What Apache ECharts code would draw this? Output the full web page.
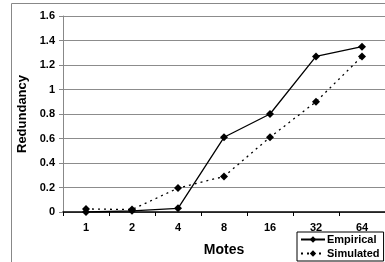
<!DOCTYPE html>
<html>
<head>
<meta charset="utf-8">
<script src="https://cdn.jsdelivr.net/npm/echarts@6/dist/echarts.min.js"></script>
<style>
  html, body { margin: 0; padding: 0; background: #fff; }
  #chart { width: 385px; height: 262px; }
</style>
</head>
<body>
<div id="chart"></div>
<script>
// categories (number of motes)
const motes = ['1', '2', '4', '8', '16', '32', '64'];
// redundancy values
const empirical = [0, 0.01, 0.03, 0.61, 0.80, 1.27, 1.35];
const simulated = [0.025, 0.02, 0.195, 0.29, 0.61, 0.90, 1.27];

const FONT = 'Liberation Sans, Arial, sans-serif';

const chart = echarts.init(document.getElementById('chart'));

const option = {
    animation: false,
    graphic: [
        {
            type: 'rect',
            shape: { x: 11.5, y: 3.5, width: 400, height: 300 },
            style: { fill: 'none', stroke: '#888', lineWidth: 1 },
            silent: true
        }
    ],
    grid: {
        left: 63,
        right: -5,
        top: 16,
        bottom: 50,
        containLabel: false
    },
    legend: {
        orient: 'vertical',
        left: 297,
        top: 232,
        itemWidth: 24,
        itemHeight: 8,
        itemGap: 3,
        padding: [2, 4, 2, 3],
        borderColor: '#000',
        borderWidth: 1,
        borderRadius: 0,
        textStyle: {
            fontFamily: FONT,
            fontWeight: 'bold',
            fontSize: 11,
            color: '#000',
            padding: [0, 0, 0, -3]
        },
        data: ['Empirical', 'Simulated']
    },
    xAxis: {
        type: 'category',
        data: motes,
        boundaryGap: true,
        name: 'Motes',
        nameLocation: 'middle',
        nameGap: 31,
        nameTextStyle: {
            fontFamily: FONT,
            fontWeight: 'bold',
            fontSize: 14,
            color: '#000'
        },
        axisLine: { lineStyle: { color: '#000', width: 1.5 } },
        axisTick: { show: true, length: 4, lineStyle: { color: '#000' } },
        axisLabel: {
            fontFamily: FONT,
            fontWeight: 'bold',
            fontSize: 11,
            color: '#000',
            margin: 10
        },
        splitLine: { show: false }
    },
    yAxis: {
        type: 'value',
        min: 0,
        max: 1.6,
        interval: 0.2,
        name: 'Redundancy',
        nameLocation: 'middle',
        nameGap: 30,
        nameTextStyle: {
            fontFamily: FONT,
            fontWeight: 'bold',
            fontSize: 13,
            color: '#000'
        },
        axisLine: { show: true, lineStyle: { color: '#888', width: 1 } },
        axisTick: { show: true, length: 4, lineStyle: { color: '#888' } },
        axisLabel: {
            fontFamily: FONT,
            fontWeight: 'bold',
            fontSize: 11,
            color: '#000',
            margin: 8
        },
        splitLine: { show: true, lineStyle: { color: '#8c8c8c', width: 1 } }
    },
    series: [
        {
            name: 'Empirical',
            type: 'line',
            data: empirical,
            symbol: 'diamond',
            symbolSize: 8,
            itemStyle: { color: '#000' },
            lineStyle: { color: '#000', width: 1.3, type: 'solid' }
        },
        {
            name: 'Simulated',
            type: 'line',
            data: simulated,
            symbol: 'diamond',
            symbolSize: 8,
            itemStyle: { color: '#000' },
            lineStyle: { color: '#000', width: 1.3, type: [2, 4] }
        }
    ]
};

chart.setOption(option);
</script>
</body>
</html>
